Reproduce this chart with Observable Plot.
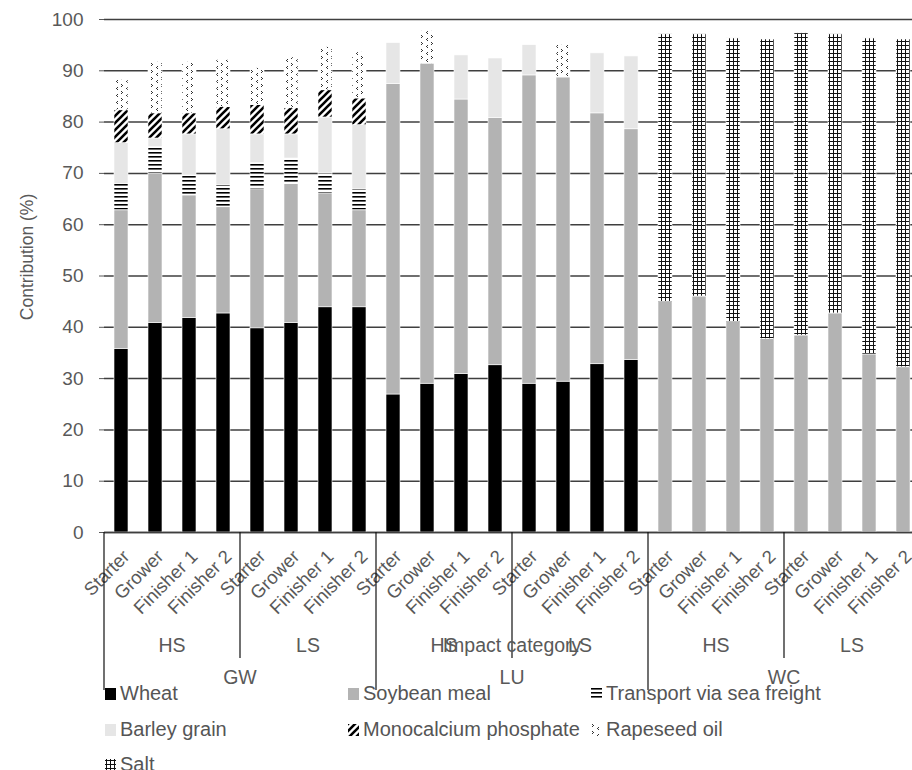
<!DOCTYPE html>
<html>
<head>
<meta charset="utf-8">
<script src="https://cdn.jsdelivr.net/npm/d3@7"></script>
<script src="https://cdn.jsdelivr.net/npm/@observablehq/plot@0.6"></script>
<style>
  html, body { margin: 0; padding: 0; background: #fff; overflow: hidden; }
  #wrap { position: relative; width: 912px; height: 770px; font-family: "Liberation Sans", Arial, sans-serif; color: #555; }
  #legend { position: absolute; left: 105px; top: 676px; display: grid; grid-template-columns: 243px 243px auto;
            grid-auto-rows: 35.5px; font-size: 20px; line-height: 35.5px; white-space: nowrap; }
  #legend svg { vertical-align: baseline; margin-right: 4px; }
</style>
</head>
<body>
<!-- fill patterns shared by the bars and the legend swatches -->
<svg width="0" height="0" style="position:absolute">
  <defs>
    <pattern id="pat-transport" width="4" height="4" patternUnits="userSpaceOnUse">
      <rect width="4" height="4" fill="#fff"/>
      <rect width="4" height="1.6" fill="#000"/>
    </pattern>
    <pattern id="pat-phosphate" width="7" height="7" patternUnits="userSpaceOnUse">
      <rect width="7" height="7" fill="#fff"/>
      <path d="M-1,1 l2,-2 M0,7 l7,-7 M6,8 l2,-2" stroke="#000" stroke-width="2.6"/>
    </pattern>
    <pattern id="pat-rapeseed" width="10" height="7" patternUnits="userSpaceOnUse">
      <rect width="10" height="7" fill="#fff"/>
      <g fill="#333">
        <rect x="1" y="0" width="1" height="1"/><rect x="2" y="1" width="1" height="1"/><rect x="1" y="2" width="1" height="1"/>
        <rect x="7" y="3" width="1" height="1"/><rect x="6" y="4" width="1" height="1"/><rect x="7" y="5" width="1" height="1"/>
      </g>
    </pattern>
    <pattern id="pat-salt" width="4" height="4" patternUnits="userSpaceOnUse">
      <rect width="4" height="4" fill="#fff"/>
      <rect x="1" width="1" height="4" fill="#111"/>
      <rect y="1" width="4" height="1" fill="#111"/>
    </pattern>
  </defs>
</svg>
<div id="wrap">
  <div id="chart"></div>
  <div id="legend"></div>
</div>
<script>
// Feed phases, diets and impact categories (GW, LU, WC)
const stages = ["Starter", "Grower", "Finisher 1", "Finisher 2"];
const diets = ["HS", "LS"];
const categories = ["GW", "LU", "WC"];
const components = ["Wheat", "Soybean meal", "Transport via sea freight", "Barley grain",
                    "Monocalcium phosphate", "Rapeseed oil", "Salt"];

// Contribution (%) of each ingredient, bars ordered GW HS/LS, LU HS/LS, WC HS/LS × 4 phases
const wheat     = [35.8, 40.8, 41.8, 42.7, 39.8, 40.8, 43.9, 43.9,  26.9, 29.0, 30.9, 32.6, 29.0, 29.4, 32.8, 33.6,  0, 0, 0, 0, 0, 0, 0, 0];
const soybean   = [27.0, 29.2, 23.9, 20.7, 27.1, 27.1, 22.2, 18.9,  60.5, 62.4, 53.5, 48.2, 60.1, 59.3, 48.9, 45.0,  44.9, 46.0, 41.0, 37.7, 38.4, 42.7, 34.7, 32.2];
const transport = [5.1, 5.1, 3.9, 4.3, 5.1, 5.0, 3.9, 4.1,  0, 0, 0, 0, 0, 0, 0, 0,  0, 0, 0, 0, 0, 0, 0, 0];
const barley    = [8.0, 1.7, 8.0, 10.9, 5.6, 4.7, 10.9, 12.5,  8.0, 0, 8.6, 11.6, 5.9, 0, 11.7, 14.2,  0, 0, 0, 0, 0, 0, 0, 0];
const phosphate = [6.4, 4.9, 4.1, 4.3, 5.7, 5.1, 5.3, 5.2,  0, 0, 0, 0, 0, 0, 0, 0,  0, 0, 0, 0, 0, 0, 0, 0];
const rapeseed  = [5.9, 10.0, 10.0, 9.2, 7.2, 9.9, 8.4, 9.0,  0, 6.3, 0, 0, 0, 6.3, 0, 0,  0, 0, 0, 0, 0, 0, 0, 0];
const salt      = [0, 0, 0, 0, 0, 0, 0, 0,  0, 0, 0, 0, 0, 0, 0, 0,  52.2, 51.1, 55.3, 58.4, 58.9, 54.4, 61.6, 63.9];

const yTicks = d3.range(0, 101, 10);
const fills = ["#000000", "#b3b3b3", "url(#pat-transport)", "#e6e6e6",
               "url(#pat-phosphate)", "url(#pat-rapeseed)", "url(#pat-salt)"];

const keys = categories.flatMap(c => diets.flatMap(d => stages.map(s => `${c}|${d}|${s}`)));
const series = [wheat, soybean, transport, barley, phosphate, rapeseed, salt];
const rows = components.flatMap((name, j) =>
  series[j].map((v, i) => ({key: keys[i], component: name, value: v})).filter(r => r.value > 0));

const textColor = "#595959";
const gridColor = "#3f3f3f";

const chart = Plot.plot({
  width: 912,
  height: 700,
  marginTop: 19,
  marginBottom: 168,
  marginLeft: 104,
  marginRight: 0,
  style: {fontFamily: "'Liberation Sans', Arial, sans-serif", fontSize: "20px", color: textColor, background: "transparent"},
  x: {domain: keys, range: [104, 920], paddingInner: 0.6, paddingOuter: 0.3, label: null},
  y: {domain: [0, 100], label: null},
  color: {domain: components, range: fills},
  marks: [
    Plot.ruleY(yTicks, {stroke: gridColor, strokeWidth: 1.5}),
    Plot.barY(rows, {x: "key", y: "value", fill: "component", stroke: "white", strokeWidth: 0.6}),
    Plot.ruleY([0], {stroke: gridColor, strokeWidth: 1.5}),
    Plot.axisY({ticks: yTicks, tickSize: 5, tickPadding: 16, fontSize: 19, label: null}),
    Plot.axisX({tickSize: 0, tickPadding: 21, tickRotate: -45, dx: 5, fontSize: 18.5, label: null,
                tickFormat: k => k.split("|")[2]}),
    Plot.text(["Contribution (%)"], {frameAnchor: "left", dx: -77, dy: -19, rotate: -90,
                                     textAnchor: "middle", fontSize: 17.5, fill: textColor})
  ]
});

// Nested category labels and separators below the phase labels
const xs = chart.scale("x");
const ys = chart.scale("y");
const step = xs.step ?? (xs.range[1] - xs.range[0]) / keys.length;
const bw = xs.bandwidth ?? step * 0.4;
const center = k => xs.apply(k) + bw / 2;
const y0 = ys.apply(0);
const svg = d3.select(chart);
const g = svg.append("g")
  .attr("fill", textColor)
  .attr("font-size", 19.5)
  .attr("text-anchor", "middle");
const vline = (x, y2) => g.append("line")
  .attr("x1", x).attr("x2", x).attr("y1", y0).attr("y2", y2)
  .attr("stroke", "#111").attr("stroke-width", 1.2);

categories.forEach(c => {
  const ks = keys.filter(k => k.split("|")[0] === c);
  const left = center(ks[0]) - step / 2;
  const right = center(ks[ks.length - 1]) + step / 2;
  vline(left, y0 + 158);
  g.append("text").attr("x", (left + right) / 2).attr("y", y0 + 152).text(c);
  diets.forEach((d, j) => {
    const kk = ks.filter(k => k.split("|")[1] === d);
    const l = center(kk[0]) - step / 2;
    const r = center(kk[kk.length - 1]) + step / 2;
    if (j > 0) vline(l, y0 + 126);
    g.append("text").attr("x", (l + r) / 2).attr("y", y0 + 120).text(d);
  });
});
g.append("text")
  .attr("x", (xs.range[0] + xs.range[1]) / 2)
  .attr("y", y0 + 120)
  .text("Impact category");

document.getElementById("chart").append(chart);

// Legend: three columns of swatch + name
const legend = d3.select("#legend");
components.forEach((name, i) => {
  const item = legend.append("div");
  item.append("svg").attr("width", 11).attr("height", 12)
    .append("rect").attr("width", 11).attr("height", 12).attr("fill", fills[i]);
  item.append("span").text(name);
});
</script>
</body>
</html>
